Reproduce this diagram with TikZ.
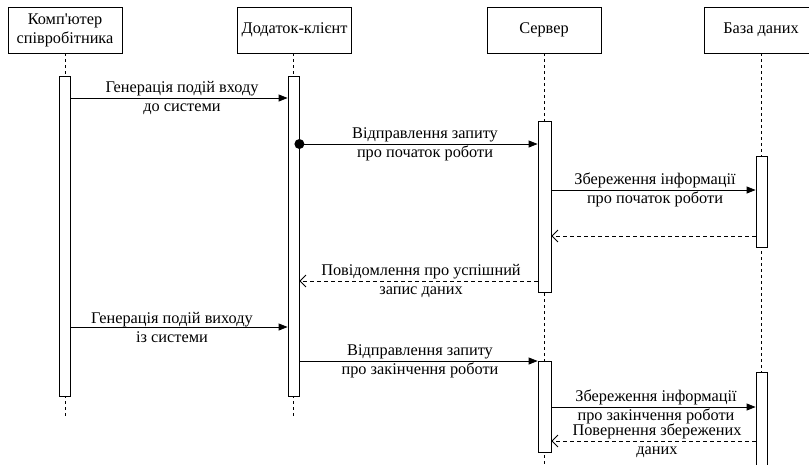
\documentclass[tikz,border=0pt]{standalone}
\usepackage{fontspec}
\setmainfont{Liberation Serif}
\newfontfamily\tnr{Liberation Serif}[Ligatures=TeXOff]
\usetikzlibrary{arrows.meta,calc}
\begin{document}
\begin{tikzpicture}[x=1pt,y=-1pt,
  txt/.style={font=\fontsize{16.3}{19}\selectfont},
  actor/.style={draw, line width=0.8pt, fill=white, minimum width=114pt, minimum height=46pt, align=center, inner sep=0pt, txt},
  bar/.style={draw, fill=white, line width=0.8pt, minimum width=11pt, inner sep=0pt},
  life/.style={dash pattern=on 3pt off 3pt, line width=0.7pt},
  msg/.style={line width=0.8pt, -{Triangle[length=9pt,width=7pt]}},
  ret/.style={line width=0.8pt, dash pattern=on 4pt off 3pt, -{Straight Barb[length=6pt,width=12pt]}},
  lbl/.style={align=center, inner sep=0pt, txt}]
\useasboundingbox (0,0) rectangle (809,464);
\clip (0,0) rectangle (809,464);
% actors
\node[actor] (a1) at (65,30) {Комп{\tnr'}ютер\\співробітника};
\node[actor] (a2) at (294.5,30) {Додаток-клієнт};
\node[actor] (a3) at (544,30) {Сервер};
\node[actor] (a4) at (761,30) {База даних};
% lifeline ends
\coordinate (e1) at (65,418);
\coordinate (e2) at (293.5,418);
\coordinate (e3) at (544.5,464);
\coordinate (e4) at (761.5,464);
\draw[life] (a1.south) -- (e1);
\draw[life] (a2.south -| e2) -- (e2);
\draw[life] (a3.south -| e3) -- (e3);
\draw[life] (a4.south -| e4) -- (e4);
% activation bars
\node[bar, minimum height=320pt] (b1) at (64.5,236) {};
\node[bar, minimum height=320pt] (b2) at (293.5,236) {};
\node[bar, minimum width=13pt, minimum height=171pt] (b3a) at (544.5,206.5) {};
\node[bar, minimum width=13pt, minimum height=91pt] (b3b) at (544.5,406.5) {};
\node[bar, minimum height=91pt] (b4a) at (761.5,201.5) {};
\node[bar, minimum height=108pt] (b4b) at (761.5,426) {};
% messages
\draw[msg] (b1.east |- 0,98) -- (b2.west |- 0,98);
\fill (b2.east |- 0,144) circle (5);
\draw[msg] (b2.east |- 0,144) -- (b3a.west |- 0,144);
\draw[msg] (b3a.east |- 0,190) -- (b4a.west |- 0,190);
\draw[ret] (b4a.west |- 0,236) -- (b3a.east |- 0,236);
\draw[ret] (b3a.west |- 0,281) -- (b2.east |- 0,281);
\draw[msg] (b1.east |- 0,327) -- (b2.west |- 0,327);
\draw[msg] (b2.east |- 0,361) -- (b3b.west |- 0,361);
\draw[msg] (b3b.east |- 0,407) -- (b4b.west |- 0,407);
\draw[ret] (b4b.west |- 0,441) -- (b3b.east |- 0,441);
% labels
\node[lbl] (l1) at (182,98) {Генерація подій входу\\до системи};
\node[lbl] (l2) at (425,144) {Відправлення запиту\\про початок роботи};
\node[lbl] (l3) at (655,190) {Збереження інформації\\про початок роботи};
\node[lbl] (l5) at (421,281) {Повідомлення про успішний\\запис даних};
\node[lbl] (l6) at (172,327) {Генерація подій виходу\\із системи};
\node[lbl] (l7) at (420,361) {Відправлення запиту\\про закінчення роботи};
\node[lbl] (l8) at (656,407) {Збереження інформації\\про закінчення роботи};
\node[lbl] (l9) at (657,441) {Повернення збережених\\даних};
\end{tikzpicture}
\end{document}
